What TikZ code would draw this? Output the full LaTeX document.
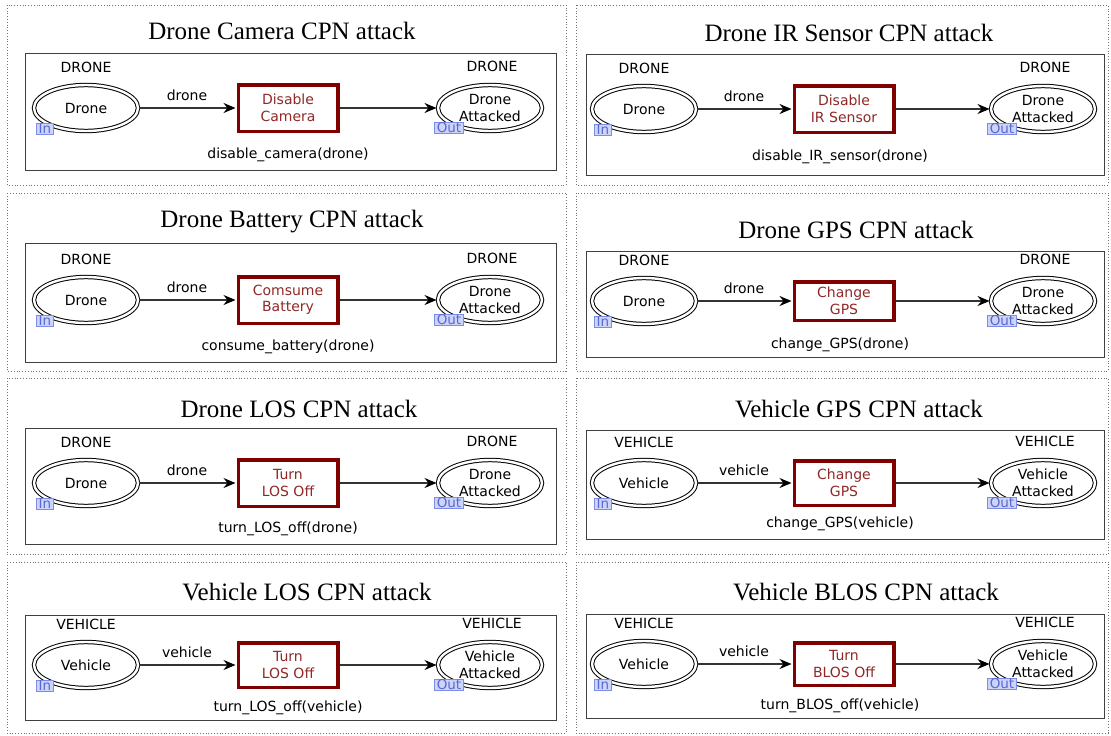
\documentclass[tikz,border=0pt]{standalone}
\usepackage{fontspec}
\setmainfont{Liberation Serif}
\newfontfamily\dvsans{DejaVu Sans}
\usetikzlibrary{shapes.geometric,arrows.meta}
\definecolor{trborder}{RGB}{128,0,0}
\definecolor{trtext}{RGB}{145,40,40}
\definecolor{tagfill}{RGB}{205,212,250}
\definecolor{tagdraw}{RGB}{125,140,230}
\definecolor{tagtext}{RGB}{90,105,210}
\tikzset{
 panel/.style={draw=black!55, dotted, line width=0.8pt},
 innerbox/.style={draw=black!75, line width=1pt},
 title/.style={font=\fontsize{25}{30}\selectfont, inner sep=0pt},
 place/.style={ellipse, draw=black, line width=1pt, double=white, double distance=2.4pt, fill=white,
   minimum width=104pt, minimum height=46pt, inner sep=0pt, align=center,
   font=\dvsans\fontsize{14}{17}\selectfont},
 typelbl/.style={font=\dvsans\fontsize{14}{17}\selectfont, inner sep=0pt},
 tagbox/.style={draw=tagdraw, fill=tagfill, text=tagtext, font=\dvsans\fontsize{13.5}{13.5}\selectfont,
   inner xsep=2.5pt, inner ysep=0.6pt, text height=9.5pt, text depth=1pt, line width=0.9pt},
 trans/.style={rectangle, draw=trborder, line width=3.5pt, fill=white, text=trtext, minimum width=99.5pt,
   align=center, inner sep=0pt, font=\dvsans\fontsize{14}{16.5}\selectfont},
 insc/.style={font=\dvsans\fontsize{14}{17}\selectfont, inner sep=0pt},
 arclbl/.style={font=\dvsans\fontsize{14}{17}\selectfont, inner sep=0pt},
 arc/.style={draw=black!80, line width=1.2pt, -{Stealth[length=12pt,width=10pt,inset=4pt,black]}, shorten >=1pt},
}
\newcommand\setcolL{\def\cpBL{25}\def\cpBR{556}\def\cpIn{86}\def\cpTr{288}\def\cpOut{490}\def\cpArc{187}\def\cpIns{288}\def\cpDL{7}\def\cpDR{566}}
\newcommand\setcolR{\def\cpBL{586}\def\cpBR{1104}\def\cpIn{644}\def\cpTr{844}\def\cpOut{1043}\def\cpArc{744}\def\cpIns{840}\def\cpDL{576}\def\cpDR{1108}}
% #1 prefix #2 dotted top #3 dotted bottom #4 title y #5 box top #6 box bottom #7 E #8 half height #9 inscription y
\newcommand\cpnpanel[9]{%
 \draw[panel] (\cpDL,#2) rectangle (\cpDR,#3);
 \node[title] (#1title) at (\cpTx,#4) {\cpTitle};
 \draw[innerbox] (\cpBL,#5) rectangle (\cpBR,#6);
 \node[place] (#1in) at (\cpIn,#7) {\cpPin};
 \node[place] (#1out) at (\cpOut,#7) {\cpPout};
 \node[typelbl] (#1tin) at (\cpIn,{#7-41}) {\cpType};
 \node[typelbl] (#1tout) at ({\cpOut+2},{#7-42}) {\cpType};
 \node[trans, minimum height={2*#8-3.5}] (#1tr) at (\cpTr,#7) {\cpTrans};
 \node[tagbox] (#1intag) at ({\cpIn-41},{#7+21}) {In};
 \node[tagbox] (#1outtag) at ({\cpOut-41},{#7+20}) {Out};
 \draw[arc] (#1in) -- (#1tr);
 \draw[arc] (#1tr) -- (#1out);
 \node[arclbl] (#1arcl) at (\cpArc,{#7-13}) {\cpArcL};
 \node[insc] (#1insc) at (\cpIns,#9) {\cpInsc};
}
\begin{document}
\begin{tikzpicture}[x=1pt,y=-1pt]
\useasboundingbox[fill=white] (0,0) rectangle (1111,736);
% ---- Row 1 left
\setcolL
\def\cpTitle{Drone Camera CPN attack}\def\cpTx{282}
\def\cpType{DRONE}\def\cpPin{Drone}\def\cpPout{Drone\\Attacked}\def\cpArcL{drone}
\def\cpTrans{Disable\\Camera}\def\cpInsc{disable\_camera(drone)}
\cpnpanel{a}{5}{185}{31}{53}{170}{108}{25}{155}
% ---- Row 1 right
\setcolR
\def\cpTitle{Drone IR Sensor CPN attack}\def\cpTx{849}
\def\cpTrans{Disable\\IR Sensor}\def\cpInsc{disable\_IR\_sensor(drone)}
\cpnpanel{b}{5}{185}{33}{54}{175}{109}{25}{157}
% ---- Row 2 left
\setcolL
\def\cpTitle{Drone Battery CPN attack}\def\cpTx{292}
\def\cpTrans{Comsume\\Battery}\def\cpInsc{consume\_battery(drone)}
\cpnpanel{c}{193}{371}{222}{243}{362}{300}{25}{347}
% ---- Row 2 right
\setcolR
\def\cpTitle{Drone GPS CPN attack}\def\cpTx{856}
\def\cpTrans{Change\\GPS}\def\cpInsc{change\_GPS(drone)}
\cpnpanel{d}{193}{371}{230}{251}{357}{301}{21}{345}
% ---- Row 3 left
\setcolL
\def\cpTitle{Drone LOS CPN attack}\def\cpTx{299}
\def\cpTrans{Turn\\LOS Off}\def\cpInsc{turn\_LOS\_off(drone)}
\cpnpanel{e}{378}{554}{409}{428}{544}{483}{25}{529}
% ---- Row 3 right
\setcolR
\def\cpTitle{Vehicle GPS CPN attack}\def\cpTx{859}
\def\cpType{VEHICLE}\def\cpPin{Vehicle}\def\cpPout{Vehicle\\Attacked}\def\cpArcL{vehicle}
\def\cpTrans{Change\\GPS}\def\cpInsc{change\_GPS(vehicle)}
\cpnpanel{f}{378}{554}{409}{430}{539}{483}{24}{524}
% ---- Row 4 left
\setcolL
\def\cpTitle{Vehicle LOS CPN attack}\def\cpTx{307}
\def\cpTrans{Turn\\LOS Off}\def\cpInsc{turn\_LOS\_off(vehicle)}
\cpnpanel{g}{562}{733}{592}{615}{720}{665}{24}{708}
% ---- Row 4 right
\setcolR
\def\cpTitle{Vehicle BLOS CPN attack}\def\cpTx{866}
\def\cpTrans{Turn\\BLOS Off}\def\cpInsc{turn\_BLOS\_off(vehicle)}
\cpnpanel{h}{562}{733}{592}{614}{718}{664}{23}{706}
\end{tikzpicture}
\end{document}
